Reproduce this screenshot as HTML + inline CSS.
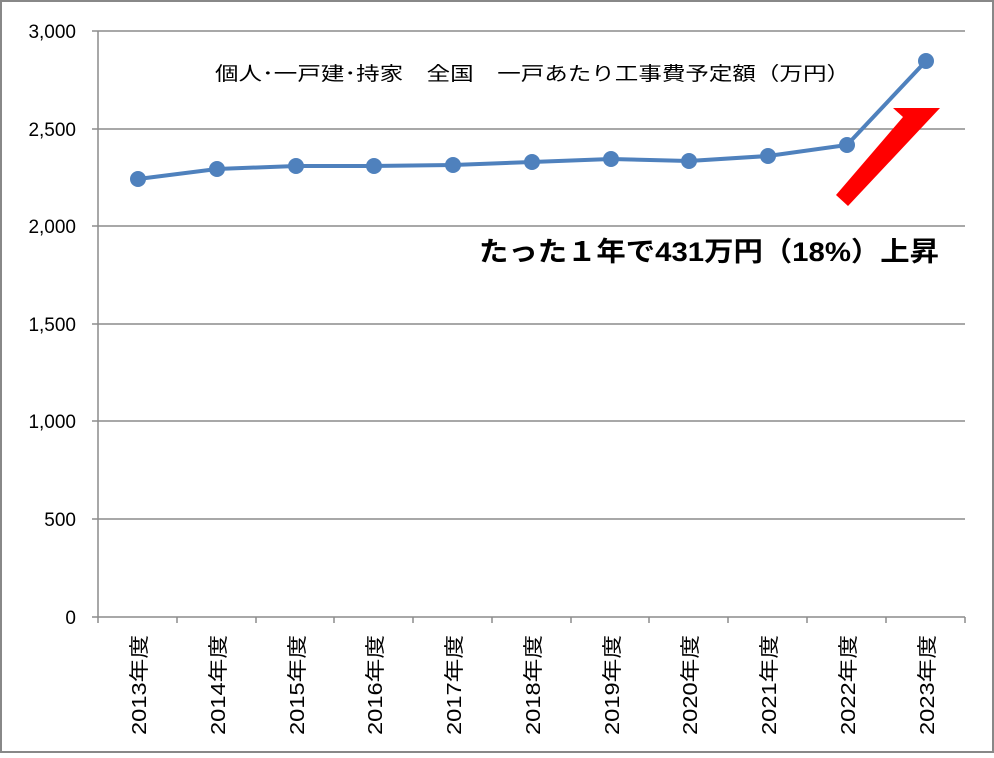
<!DOCTYPE html>
<html><head><meta charset="utf-8"><style>
html,body{margin:0;padding:0;background:#fff}
text{font-family:"Liberation Sans","Noto Sans CJK JP",sans-serif}
</style></head><body>
<svg width="994" height="753" xmlns="http://www.w3.org/2000/svg">
<rect x="1" y="1" width="992" height="751" fill="#fff" stroke="#888" stroke-width="2"/>
<g stroke="#8c8c8c" stroke-width="1.5">
<line x1="98" y1="31" x2="965" y2="31"/>
<line x1="98" y1="129" x2="965" y2="129"/>
<line x1="98" y1="226" x2="965" y2="226"/>
<line x1="98" y1="324" x2="965" y2="324"/>
<line x1="98" y1="421" x2="965" y2="421"/>
<line x1="98" y1="519" x2="965" y2="519"/>
<line x1="92" y1="617" x2="965" y2="617"/>
<line x1="98" y1="31" x2="98" y2="623"/>
<line x1="92" y1="31" x2="98" y2="31"/><line x1="92" y1="129" x2="98" y2="129"/><line x1="92" y1="226" x2="98" y2="226"/><line x1="92" y1="324" x2="98" y2="324"/><line x1="92" y1="421" x2="98" y2="421"/><line x1="92" y1="519" x2="98" y2="519"/>
<line x1="177" y1="617" x2="177" y2="623"/><line x1="256" y1="617" x2="256" y2="623"/><line x1="334" y1="617" x2="334" y2="623"/><line x1="413" y1="617" x2="413" y2="623"/><line x1="492" y1="617" x2="492" y2="623"/><line x1="571" y1="617" x2="571" y2="623"/><line x1="649" y1="617" x2="649" y2="623"/><line x1="728" y1="617" x2="728" y2="623"/><line x1="807" y1="617" x2="807" y2="623"/><line x1="886" y1="617" x2="886" y2="623"/><line x1="965" y1="617" x2="965" y2="623"/>
</g>
<g font-size="19" fill="#000" text-anchor="end">
<text x="76" y="38">3,000</text><text x="76" y="136">2,500</text><text x="76" y="233">2,000</text><text x="76" y="331">1,500</text><text x="76" y="428">1,000</text><text x="76" y="526">500</text><text x="76" y="624">0</text>
</g>
<g font-size="20" fill="#000" text-anchor="end">
<text transform="translate(146,635) rotate(-90)" textLength="100" lengthAdjust="spacingAndGlyphs">2013年度</text>
<text transform="translate(225,635) rotate(-90)" textLength="100" lengthAdjust="spacingAndGlyphs">2014年度</text>
<text transform="translate(304,635) rotate(-90)" textLength="100" lengthAdjust="spacingAndGlyphs">2015年度</text>
<text transform="translate(382,635) rotate(-90)" textLength="100" lengthAdjust="spacingAndGlyphs">2016年度</text>
<text transform="translate(461,635) rotate(-90)" textLength="100" lengthAdjust="spacingAndGlyphs">2017年度</text>
<text transform="translate(540,635) rotate(-90)" textLength="100" lengthAdjust="spacingAndGlyphs">2018年度</text>
<text transform="translate(619,635) rotate(-90)" textLength="100" lengthAdjust="spacingAndGlyphs">2019年度</text>
<text transform="translate(697,635) rotate(-90)" textLength="100" lengthAdjust="spacingAndGlyphs">2020年度</text>
<text transform="translate(776,635) rotate(-90)" textLength="100" lengthAdjust="spacingAndGlyphs">2021年度</text>
<text transform="translate(855,635) rotate(-90)" textLength="100" lengthAdjust="spacingAndGlyphs">2022年度</text>
<text transform="translate(934,635) rotate(-90)" textLength="100" lengthAdjust="spacingAndGlyphs">2023年度</text>
</g>
<text x="215" y="80" font-size="19" fill="#000" textLength="635" lengthAdjust="spacingAndGlyphs">個人･一戸建･持家　全国　一戸あたり工事費予定額（万円）</text>
<polygon points="836,195 903,117 893,108 940,108 848,206" fill="#ff0000"/>
<polyline points="138,179 217,169 296,166 374,166 453,165 532,162 611,159 689,161 768,156 847,145 926,61" fill="none" stroke="#4f81bd" stroke-width="4"/>
<g fill="#4f81bd">
<circle cx="138" cy="179" r="8"/><circle cx="217" cy="169" r="8"/><circle cx="296" cy="166" r="8"/><circle cx="374" cy="166" r="8"/><circle cx="453" cy="165" r="8"/><circle cx="532" cy="162" r="8"/><circle cx="611" cy="159" r="8"/><circle cx="689" cy="161" r="8"/><circle cx="768" cy="156" r="8"/><circle cx="847" cy="145" r="8"/><circle cx="926" cy="61" r="8"/>
</g>
<text x="479" y="261" font-size="27" font-weight="bold" fill="#000" textLength="460" lengthAdjust="spacingAndGlyphs">たった１年で431万円（18%）上昇</text>
</svg>
</body></html>
